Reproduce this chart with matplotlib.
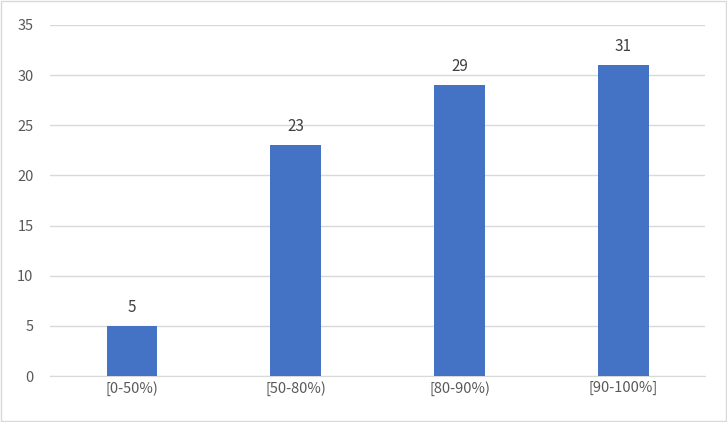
import matplotlib
matplotlib.use("Agg")
import matplotlib.pyplot as plt
from matplotlib.patches import Rectangle

plt.rcParams['font.family'] = ['Noto Sans CJK SC', 'DejaVu Sans']

categories = ["[0-50%)", "[50-80%)", "[80-90%)", "[90-100%]"]
values = [5, 23, 29, 31]

fig = plt.figure(figsize=(7.27, 4.22), dpi=100)
ax = fig.add_axes([0.069, 0.109, 0.901, 0.832])
x = range(len(categories))
bars = ax.bar(x, values, width=0.31, color="#4472C4", zorder=3)
for xi, v in zip(x, values):
    ax.text(xi, v + 1, str(v), ha="center", va="bottom", fontsize=11, color="#404040")
ax.set_xlim(-0.5, 3.5)
ax.set_ylim(0, 35)
ax.set_yticks(range(0, 36, 5))
ax.set_xticks(list(x))
ax.set_xticklabels(categories)
ax.tick_params(axis="both", length=0, labelsize=10.5, colors="#595959")
ax.tick_params(axis="y", pad=12)
ax.grid(axis="y", color="#D9D9D9", linewidth=1, zorder=0)
for s in ["top", "right", "left"]:
    ax.spines[s].set_visible(False)
ax.spines["bottom"].set_color("#D9D9D9")
fig.patches.append(Rectangle((0.001, 0.002), 0.997, 0.995, transform=fig.transFigure,
                             fill=False, edgecolor="#D9D9D9", linewidth=1))
fig.savefig("out.png", dpi=100)
